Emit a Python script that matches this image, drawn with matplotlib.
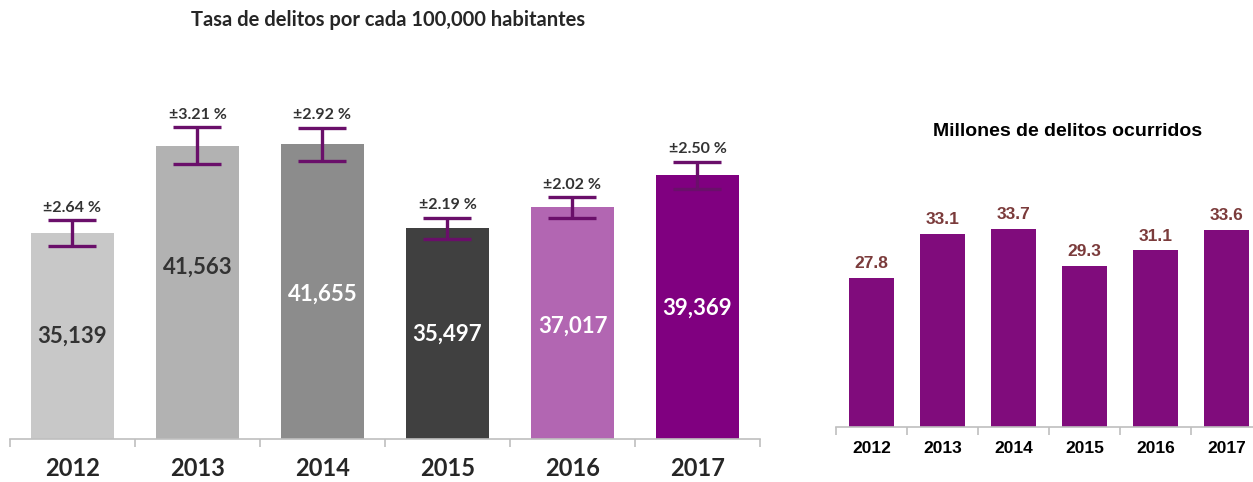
import numpy as np
import matplotlib.pyplot as plt

# Datos
years = ['2012', '2013', '2014', '2015', '2016', '2017']
tasa = [35139, 41563, 41655, 35497, 37017, 39369]
error_pct = [2.64, 3.21, 2.92, 2.19, 2.02, 2.50]
millones = [27.8, 33.1, 33.7, 29.3, 31.1, 33.6]

bar_colors = ['#c8c8c8', '#b2b2b2', '#8c8c8c', '#404040', '#b266b2', '#800080']
label_colors = ['#333333', '#333333', 'white', 'white', 'white', 'white']
label_nudge = [0, 25, -3, -1, -3, -1]  # px, para acercar al original

W, H = 1253, 482
fig = plt.figure(figsize=(W / 100, H / 100), dpi=100)

def px_axes(x0, y0, x1, y1):
    # coordenadas en pixeles (origen arriba-izquierda)
    return fig.add_axes([x0 / W, 1 - y1 / H, (x1 - x0) / W, (y1 - y0) / H])

def style_axis(ax, labelsize, family, color, pad):
    for s in ['top', 'right', 'left']:
        ax.spines[s].set_visible(False)
    ax.spines['bottom'].set_color('#bfbfbf')
    ax.spines['bottom'].set_linewidth(1.2)
    ax.set_yticks([])
    ax.set_xlim(-0.5, len(years) - 0.5)
    ax.set_xticks(np.arange(len(years)))
    ax.set_xticklabels(years, fontsize=labelsize, fontweight='bold', family=family, color=color)
    ax.set_xticks(np.arange(len(years) + 1) - 0.5, minor=True)
    ax.tick_params(axis='x', which='major', length=0, pad=pad)
    ax.tick_params(axis='x', which='minor', length=6, color='#bfbfbf', width=1.2)
    ax.patch.set_alpha(0)

# ---- Grafica izquierda: tasa por cada 100,000 habitantes
ax1 = px_axes(10, 58, 760, 439)
x = np.arange(len(years))
ax1.bar(x, [v - 20000 for v in tasa], bottom=20000, width=0.66, color=bar_colors, zorder=2)
ax1.set_ylim(20000, 48000)
style_axis(ax1, 17, 'Lato', '#262626', 13)

err = [v * p / 100 for v, p in zip(tasa, error_pct)]
ax1.errorbar(x, tasa, yerr=err, fmt='none', ecolor='#6a0f6a', elinewidth=2.4,
             capsize=17, capthick=2.4, zorder=3)

for i, (v, e, p) in enumerate(zip(tasa, err, error_pct)):
    mid = (v + 20000) / 2
    ax1.annotate(f'{v:,}', (i, mid), xytext=(0, label_nudge[i] * 0.72), textcoords='offset points',
                 ha='center', va='center', fontsize=16, fontweight='bold', family='Lato',
                 color=label_colors[i])
    ax1.annotate(f'±{p:.2f} %', (i, v + e), xytext=(0, 4), textcoords='offset points',
                 ha='center', va='bottom', fontsize=11.5, fontweight='bold', family='Lato',
                 color='#333333')

fig.text(388 / W, 1 - 20 / H, 'Tasa de delitos por cada 100,000 habitantes', ha='center', va='center',
         fontsize=14.5, fontweight='bold', family='Lato', color='#262626')

# ---- Grafica derecha: millones de delitos ocurridos
ax2 = px_axes(836, 176, 1262, 427)
ax2.bar(x, [v - 10 for v in millones], bottom=10, width=0.63, color='#800c7c', zorder=2)
ax2.set_ylim(10, 40)
style_axis(ax2, 12.5, 'Liberation Sans', 'black', 10)
for i, v in enumerate(millones):
    ax2.annotate(f'{v:.1f}', (i, v), xytext=(0, 5), textcoords='offset points',
                 ha='center', va='bottom', fontsize=12.5, fontweight='bold',
                 family='Liberation Sans', color='#7b3b3b')

fig.text(1068 / W, 1 - 132 / H, 'Millones de delitos ocurridos', ha='center', va='center',
         fontsize=14, fontweight='bold', family='Liberation Sans', color='black')

fig.savefig('out.png', dpi=100)
